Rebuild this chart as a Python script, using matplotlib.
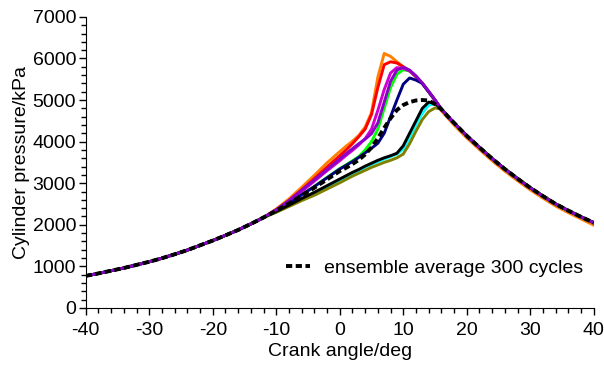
import matplotlib
matplotlib.use("Agg")
import matplotlib.pyplot as plt
from matplotlib.ticker import MultipleLocator

plt.rcParams['font.family'] = ['Liberation Sans', 'DejaVu Sans']
plt.rcParams['axes.unicode_minus'] = False

# shared compression stroke (all cycles overlap here)
comp_angle = [-40, -38, -36, -34, -32, -30, -28, -26, -24, -22, -20, -18, -16, -14, -12]
comp_p = [770, 830, 895, 960, 1035, 1110, 1195, 1290, 1390, 1505, 1620, 1745, 1875, 2020, 2175]

# combustion region, one list per cycle
mid_angle = [-10, -8, -6, -4, -2, 0, 1, 2, 3, 4, 5, 6, 7, 8, 9, 10, 11, 12, 13, 14, 15]
p_orange = [2380, 2620, 2900, 3190, 3490, 3760, 3890, 4010, 4150, 4350, 4700, 5550, 6120, 6050, 5920, 5800, 5700, 5560, 5400, 5200, 4990]
p_red = [2360, 2580, 2840, 3110, 3390, 3660, 3800, 3950, 4120, 4300, 4650, 5300, 5850, 5920, 5890, 5800, 5700, 5560, 5400, 5200, 5000]
p_magenta = [2350, 2560, 2800, 3050, 3300, 3540, 3670, 3790, 3920, 4070, 4300, 4750, 5250, 5650, 5780, 5760, 5700, 5570, 5400, 5200, 5000]
p_green = [2340, 2520, 2720, 2920, 3140, 3350, 3440, 3540, 3640, 3800, 4000, 4300, 4800, 5300, 5620, 5730, 5700, 5570, 5400, 5200, 5000]
p_purple = [2360, 2580, 2830, 3080, 3330, 3580, 3710, 3830, 3950, 4060, 4190, 4450, 4950, 5450, 5720, 5790, 5720, 5580, 5410, 5210, 5000]
p_navy = [2340, 2520, 2720, 2920, 3130, 3340, 3430, 3520, 3620, 3730, 3840, 3960, 4200, 4600, 5000, 5380, 5530, 5480, 5400, 5200, 5000]
p_black = [2320, 2470, 2630, 2780, 2940, 3100, 3180, 3260, 3330, 3410, 3480, 3550, 3610, 3660, 3720, 3900, 4200, 4500, 4800, 4950, 4920]
p_cyan = [2310, 2460, 2610, 2760, 2910, 3070, 3150, 3230, 3300, 3380, 3450, 3520, 3580, 3640, 3700, 3820, 4100, 4400, 4680, 4880, 4900]
p_olive = [2300, 2440, 2580, 2710, 2860, 3010, 3090, 3170, 3240, 3310, 3380, 3440, 3500, 3550, 3610, 3700, 3950, 4250, 4530, 4720, 4810]
p_avg = [2340, 2510, 2700, 2890, 3090, 3290, 3370, 3460, 3560, 3690, 3860, 4080, 4330, 4560, 4760, 4880, 4950, 4990, 5000, 4990, 4900]

# shared expansion stroke
exp_angle = [16, 17, 18, 20, 22, 24, 26, 28, 30, 32, 34, 36, 38, 40]
exp_p = [4780, 4610, 4450, 4140, 3860, 3590, 3340, 3110, 2890, 2690, 2500, 2340, 2190, 2050]
exp_p_orange = [4740, 4570, 4400, 4090, 3810, 3540, 3290, 3060, 2840, 2640, 2450, 2290, 2140, 1990]

cycles = [
    ("#ff7f00", p_orange, exp_p_orange),
    ("#ff0000", p_red, exp_p),
    ("#00ff00", p_green, exp_p),
    ("#d000d0", p_magenta, exp_p),
    ("#000080", p_navy, exp_p),
    ("#00ffff", p_cyan, exp_p),
    ("#808000", p_olive, exp_p),
    ("#000000", p_black, exp_p),
    ("#8a00c8", p_purple, exp_p),
]

fig, ax = plt.subplots(figsize=(6.04, 3.67), dpi=100)
fig.subplots_adjust(left=0.142, right=0.983, bottom=0.161, top=0.954)

for color, mid, tail in cycles:
    ax.plot(comp_angle + mid_angle + exp_angle, comp_p + mid + tail,
            color=color, lw=2.1, solid_joinstyle='round')

ax.plot(comp_angle + mid_angle + exp_angle, comp_p + p_avg + exp_p,
        color='black', lw=2.8, dashes=(1.6, 0.9),
        label='ensemble average 300 cycles')

ax.set_xlim(-40, 40)
ax.set_ylim(0, 7000)
ax.xaxis.set_major_locator(MultipleLocator(10))
ax.xaxis.set_minor_locator(MultipleLocator(2))
ax.yaxis.set_major_locator(MultipleLocator(1000))
ax.yaxis.set_minor_locator(MultipleLocator(200))
ax.tick_params(which='major', direction='out', length=5, width=1, labelsize=14, pad=2)
ax.tick_params(axis='x', which='major', pad=5)
ax.tick_params(which='minor', direction='out', length=3.5, width=1)
for s in ['top', 'right']:
    ax.spines[s].set_visible(False)

ax.set_xlabel('Crank angle/deg', fontsize=14, labelpad=3)
ax.set_ylabel('Cylinder pressure/kPa', fontsize=14, labelpad=2)

ax.legend(loc='center left', bbox_to_anchor=(0.395, 0.137), frameon=False,
          fontsize=14, handlelength=1.2, handletextpad=0.75,
          borderpad=0, borderaxespad=0)

fig.savefig('out.png', dpi=100)
